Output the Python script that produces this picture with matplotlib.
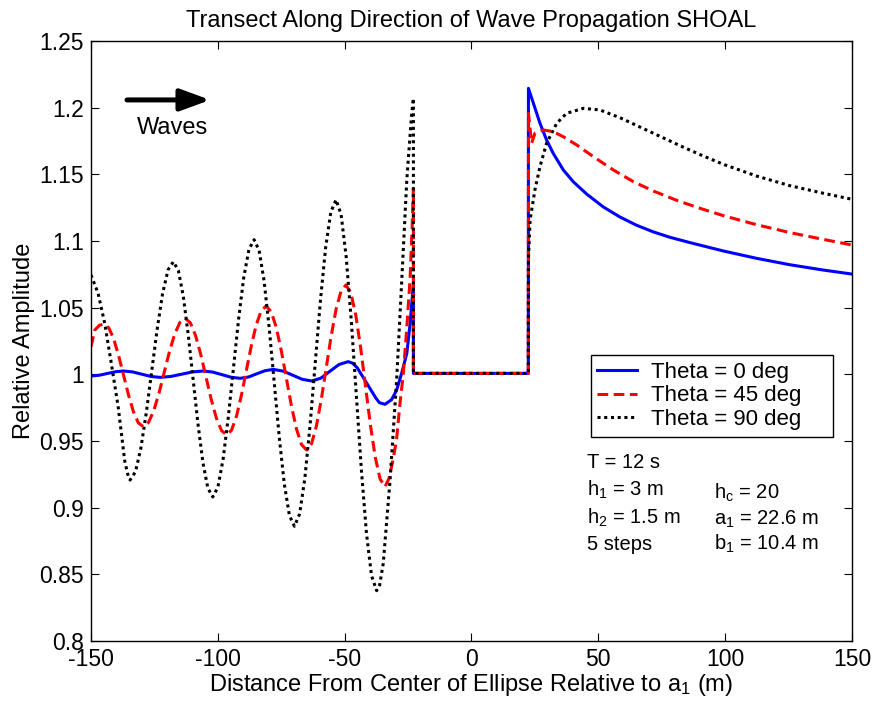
import matplotlib
matplotlib.use("Agg")
import matplotlib.pyplot as plt

plt.rcParams['font.family'] = ['Liberation Sans', 'DejaVu Sans']
plt.rcParams['mathtext.fontset'] = 'custom'
plt.rcParams['mathtext.rm'] = 'Liberation Sans'
plt.rcParams['mathtext.it'] = 'Liberation Sans'
plt.rcParams['axes.unicode_minus'] = False

# Theta = 0 deg
x0 = [-150, -146.8, -143.6, -140.4, -137.2, -133.6, -130.0, -126.4, -122.8, -118.5, -114.25,
      -110.0, -105.7, -102.1, -98.45, -94.8, -91.2, -87.9, -84.65, -81.4, -78.1, -74.3, -70.55,
      -66.8, -63.0, -59.4, -55.8, -52.2, -48.6, -46.8, -45.0, -41.35, -37.7, -36.3, -34.1,
      -31.5, -29.5, -27.5, -25.5, -24.2, -22.9, -22.9,
      22.4, 22.45, 24.4, 27.0, 29.6, 32.2, 36.2, 40.1, 45.4, 52.0, 58.5, 65.1, 71.7, 78.2,
      86.1, 99.3, 112.4, 125.5, 138.7, 150]
y0 = [0.9987, 0.9993, 1.0006, 1.0019, 1.0025, 1.0018, 1.0001, 0.9984, 0.9977, 0.9984, 1.0001,
      1.0018, 1.0025, 1.0017, 0.9998, 0.9978, 0.997, 0.998, 1.0004, 1.0027, 1.0037, 1.0024, 0.9994,
      0.9963, 0.995, 0.9971, 1.0023, 1.0074, 1.0095, 1.0083, 1.0048, 0.9935, 0.9822, 0.9787, 0.9775,
      0.981, 0.9882, 1.001, 1.0157, 1.038, 1.068, 1.0007,
      1.0007, 1.2145, 1.2033, 1.1883, 1.1758, 1.1658, 1.1533, 1.1445, 1.1352, 1.1255, 1.118, 1.1118,
      1.1068, 1.1028, 1.0988, 1.0925, 1.087, 1.0822, 1.0782, 1.0752]

# Theta = 45 deg
x45 = [-150, -148.5, -146.7, -144.9, -142.96, -141.03, -139.09, -137.15, -135.21, -133.28, -131.34,
       -129.4, -127.34, -125.28, -123.21, -121.15, -119.09, -117.03, -114.96,
       -112.9, -110.85, -108.8, -106.75, -104.7, -102.65, -100.6, -98.55,
       -96.5, -94.56, -92.63, -90.69, -88.75, -86.81, -84.88, -82.94,
       -81.0, -79.0, -77.0, -75.0, -73.0, -71.0, -69.0, -67.0,
       -65.0, -63.06, -61.13, -59.19, -57.25, -55.31, -53.38, -51.44,
       -49.5, -47.58, -45.65, -43.73, -41.8, -39.88, -37.95, -36.03,
       -34.1, -32.5, -30.8, -29.5, -28.2, -26.9, -25.5, -24.2, -23.4, -22.9, -22.9,
       22.4, 22.45, 23.7, 25.0, 28.3, 32.2, 36.2, 41.5, 48.0, 55.9, 63.8, 71.7, 80.9,
       90.1, 99.3, 112.4, 125.5, 138.7, 150]
y45 = [1.0207, 1.0332, 1.0368, 1.0377, 1.0348, 1.0264, 1.0139, 0.9992, 0.9845, 0.972, 0.9636,
       0.9607, 0.9638, 0.9726, 0.9858, 1.0014, 1.0169, 1.0301, 1.0389,
       1.042, 1.0387, 1.0292, 1.015, 0.9983, 0.9815, 0.9673, 0.9578,
       0.9545, 0.9582, 0.9687, 0.9844, 1.0029, 1.0213, 1.037, 1.0475,
       1.0512, 1.0471, 1.0354, 1.0179, 0.9972, 0.9765, 0.959, 0.9473,
       0.9432, 0.9479, 0.9613, 0.9814, 1.0051, 1.0288, 1.0489, 1.0623,
       1.067, 1.0612, 1.0448, 1.0203, 0.9914, 0.9624, 0.9379, 0.9215,
       0.9157, 0.922, 0.937, 0.952, 0.978, 1.0, 1.035, 1.072, 1.11, 1.1395, 1.0007,
       1.0007, 1.1958, 1.1733, 1.1808, 1.1833, 1.182, 1.1782, 1.172, 1.1633, 1.1533, 1.1445,
       1.1375, 1.1305, 1.1245, 1.119, 1.1122, 1.1063, 1.1012, 1.097]

# Theta = 90 deg
x90 = [-150, -147.2, -144.6, -142.0, -139.3, -136.7, -135.5,
       -134.6, -132.46, -130.33, -128.19, -126.05, -123.91, -121.78, -119.64,
       -117.5, -115.56, -113.63, -111.69, -109.75, -107.81, -105.88, -103.94,
       -102.0, -99.96, -97.93, -95.89, -93.85, -91.81, -89.78, -87.74,
       -85.7, -83.71, -81.73, -79.74, -77.75, -75.76, -73.78, -71.79,
       -69.8, -67.75, -65.7, -63.65, -61.6, -59.55, -57.5, -55.45,
       -53.4, -51.4, -49.4, -47.4, -45.4, -43.4, -41.4, -39.4,
       -37.4, -36.2, -34.8, -32.1, -29.5, -27.5, -25.5, -23.6, -22.9, -22.9,
       22.4, 22.45, 23.1, 25.0, 27.0, 29.6, 33.6, 37.5, 44.1, 50.6, 58.5, 66.4, 74.3, 82.2,
       90.1, 99.3, 112.4, 125.5, 138.7, 150]
y90 = [1.0745, 1.0608, 1.0383, 1.0083, 0.9758, 0.935, 0.925,
       0.9207, 0.9269, 0.9447, 0.9713, 1.0026, 1.0339, 1.0605, 1.0783,
       1.0845, 1.0778, 1.0587, 1.03, 0.9963, 0.9625, 0.9338, 0.9147,
       0.908, 0.9154, 0.9363, 0.9676, 1.0045, 1.0414, 1.0727, 1.0936,
       1.101, 1.0928, 1.0695, 1.0346, 0.9935, 0.9524, 0.9175, 0.8942,
       0.886, 0.8953, 0.9219, 0.9616, 1.0085, 1.0554, 1.0951, 1.1217,
       1.131, 1.1198, 1.0881, 1.0405, 0.9844, 0.9282, 0.8806, 0.8489,
       0.8377, 0.842, 0.858, 0.9207, 0.996, 1.07, 1.146, 1.195, 1.207, 1.0007,
       1.0007, 1.0858, 1.1158, 1.1383, 1.1558, 1.1733, 1.1883, 1.1958, 1.1995, 1.1983, 1.1925,
       1.1855, 1.1785, 1.1715, 1.1648, 1.1575, 1.1487, 1.1415, 1.1358, 1.1313]

labels = ['Theta = 0 deg', 'Theta = 45 deg', 'Theta = 90 deg']

fig = plt.figure(figsize=(8.75, 7.07), dpi=100)
ax = fig.add_axes([0.104, 0.0934, 0.8697, 0.8486])

ax.plot(x0, y0, color='blue', lw=2.2, label=labels[0])
ax.plot(x45, y45, color='red', lw=2.2, dashes=(3.5, 1.8), label=labels[1])
ax.plot(x90, y90, color='black', lw=2.2, dashes=(1, 1.2), label=labels[2])

ax.set_xlim(-150, 150)
ax.set_ylim(0.8, 1.25)
ax.set_xticks([-150, -100, -50, 0, 50, 100, 150])
ax.set_yticks([0.8, 0.85, 0.9, 0.95, 1.0, 1.05, 1.1, 1.15, 1.2, 1.25])
ax.set_yticklabels(['0.8', '0.85', '0.9', '0.95', '1', '1.05', '1.1', '1.15', '1.2', '1.25'])
ax.tick_params(direction='in', top=True, right=True, length=6, labelsize=16.5, width=0.8, pad=5)
for s in ax.spines.values():
    s.set_linewidth(1.0)

ax.set_title('Transect Along Direction of Wave Propagation SHOAL', fontsize=17, pad=10)
ax.set_xlabel('Distance From Center of Ellipse Relative to a$_1$ (m)', fontsize=17, labelpad=1)
ax.set_ylabel('Relative Amplitude', fontsize=17, labelpad=3)

leg = ax.legend(loc='upper left', bbox_to_anchor=(0.6566, 0.336, 0.3184, 0.1407), mode='expand',
                borderaxespad=0, fontsize=16, fancybox=False, framealpha=1, edgecolor='black',
                handlelength=1.8, handletextpad=0.6, labelspacing=0.12, borderpad=0.3)
leg.get_frame().set_linewidth(1.0)

ax.annotate('', xy=(-103.0, 1.2058), xytext=(-135.8, 1.2058),
            arrowprops=dict(arrowstyle='-|>,head_length=0.9,head_width=0.33',
                            lw=3.6, color='black', mutation_scale=20, shrinkA=0, shrinkB=0))
ax.text(-118, 1.1847, 'Waves', fontsize=17, ha='center', va='center')

ax.text(45.5, 0.9342, 'T = 12 s', fontsize=14.5, va='center')
ax.text(45.5, 0.9135, 'h$_1$ = 3 m', fontsize=14.5, va='center')
ax.text(45.5, 0.8925, 'h$_2$ = 1.5 m', fontsize=14.5, va='center')
ax.text(45.5, 0.8725, '5 steps', fontsize=14.5, va='center')
ax.text(95.5, 0.911, 'h$_c$ = 20', fontsize=14.5, va='center')
ax.text(95.5, 0.8915, 'a$_1$ = 22.6 m', fontsize=14.5, va='center')
ax.text(95.5, 0.873, 'b$_1$ = 10.4 m', fontsize=14.5, va='center')

fig.savefig('out.png', dpi=100)
